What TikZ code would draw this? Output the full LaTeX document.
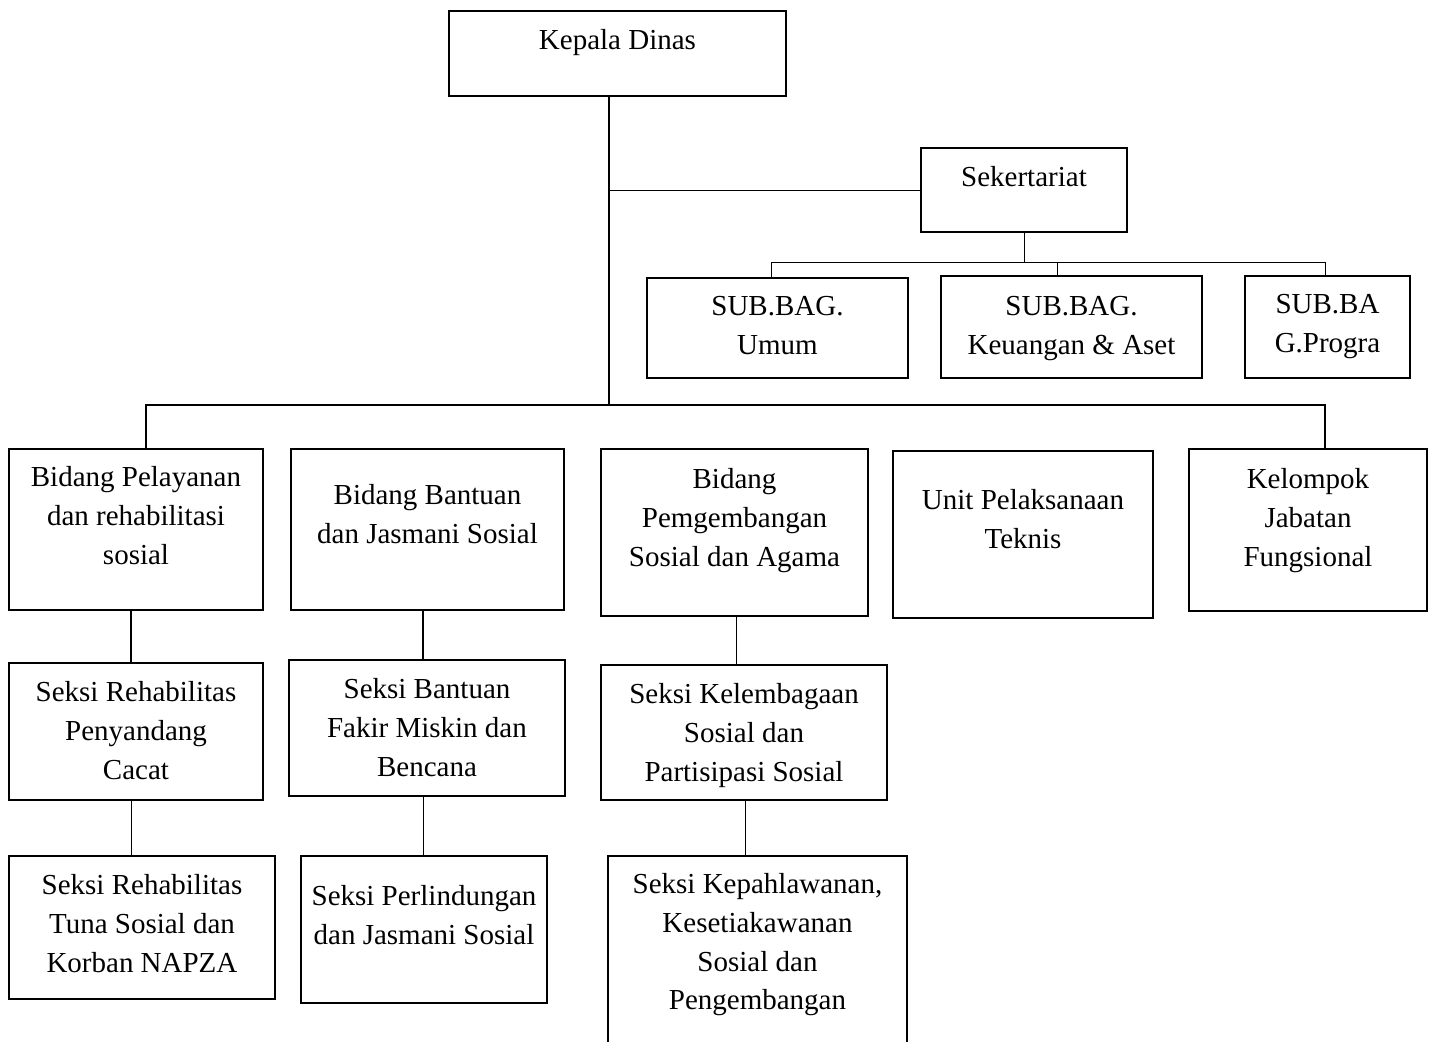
\documentclass[tikz,border=0pt]{standalone}
\usepackage{fontspec}
\setmainfont{Liberation Serif}
\usetikzlibrary{calc}
\tikzset{
  orgbox/.style={draw, line width=1pt, inner sep=0pt, outer sep=0pt, rectangle},
  orgtxt/.style={anchor=north, inner sep=0pt, outer sep=0pt, align=center,
    font=\fontsize{14.5}{19.4}\selectfont},
  thickln/.style={line width=1pt},
  thinln/.style={line width=0.5pt}
}
\newcommand\orgbox[5]{\node[orgbox, minimum width={(#4-#2)*0.5pt}, minimum height={(#5-#3)*0.5pt}] (#1) at ({(#2+#4)/2},{(#3+#5)/2}) {};}
\newcommand\orgtext[3]{\node[orgtxt] (#1-t) at ($(#1.center |- 0,0)+(0,{#2-17.7})$) {\strut #3};}
\begin{document}
\begin{tikzpicture}[x=0.5pt,y=-0.5pt]
\useasboundingbox (0,0) rectangle (1435,1041);
% boxes
\orgbox{kd}{449}{11}{786}{96}
\orgbox{sek}{921}{148}{1127}{232}
\orgbox{umum}{647}{278}{908}{378}
\orgbox{keu}{941}{276}{1202}{378}
\orgbox{prog}{1245}{276}{1410}{378}
\orgbox{bp}{9}{449}{263}{610}
\orgbox{bb}{291}{449}{564}{610}
\orgbox{bg}{601}{449}{868}{616}
\orgbox{up}{893}{451}{1153}{618}
\orgbox{kj}{1189}{449}{1427}{611}
\orgbox{sr1}{9}{663}{263}{800}
\orgbox{sb1}{289}{660}{565}{796}
\orgbox{sk1}{601}{665}{887}{800}
\orgbox{sr2}{9}{856}{275}{999}
\orgbox{sp}{301}{856}{547}{1003}
\orgbox{sk2}{608}{856}{907}{1100}
% texts
\orgtext{kd}{40}{Kepala Dinas}
\orgtext{sek}{177}{Sekertariat}
\orgtext{umum}{306}{SUB.BAG.\\Umum}
\orgtext{keu}{306}{SUB.BAG.\\Keuangan \& Aset}
\orgtext{prog}{304}{SUB.BA\\G.Progra}
\orgtext{bp}{477}{Bidang Pelayanan\\dan rehabilitasi\\sosial}
\orgtext{bb}{495}{Bidang Bantuan\\dan Jasmani Sosial}
\orgtext{bg}{479}{Bidang\\Pemgembangan\\Sosial dan Agama}
\orgtext{up}{500}{Unit Pelaksanaan\\Teknis}
\orgtext{kj}{479}{Kelompok\\Jabatan\\Fungsional}
\orgtext{sr1}{692}{Seksi Rehabilitas\\Penyandang\\Cacat}
\orgtext{sb1}{689}{Seksi Bantuan\\Fakir Miskin dan\\Bencana}
\orgtext{sk1}{694}{Seksi Kelembagaan\\Sosial dan\\Partisipasi Sosial}
\orgtext{sr2}{885}{Seksi Rehabilitas\\Tuna Sosial dan\\Korban NAPZA}
\orgtext{sp}{896}{Seksi Perlindungan\\dan Jasmani Sosial}
\orgtext{sk2}{884}{Seksi Kepahlawanan,\\Kesetiakawanan\\Sosial dan\\Pengembangan}
% junctions
\coordinate (mbar) at (609,405);
\coordinate (sbar) at (1025,262);
% main trunk
\draw[thickln] (kd.south -| mbar) -- (mbar);
\draw[thinln] (sek.west) -- (sek.west -| mbar);
% secretariat branch
\draw[thinln] (sek.south) -- (sek.south |- sbar);
\draw[thinln] ([xshift=-3.25pt]umum.north) |- ([xshift=-1.25pt]prog.north |- sbar) -- ([xshift=-1.25pt]prog.north);
\draw[thinln] ([xshift=-7.25pt]keu.north) -- ([xshift=-7.25pt]keu.north |- sbar);
% main bar
\draw[thickln] ([xshift=5pt]bp.north) |- ([xshift=8.5pt]kj.north |- mbar) -- ([xshift=8.5pt]kj.north);
% columns
\draw[thickln] ([xshift=-2.5pt]bp.south) -- ([xshift=-2.5pt]bp.south |- sr1.north);
\draw[thinln] ([xshift=-2.5pt]sr1.south) -- ([xshift=-2.5pt]sr1.south |- sr2.north);
\draw[thickln] ([xshift=-2.25pt]bb.south) -- ([xshift=-2.25pt]bb.south |- sb1.north);
\draw[thinln] ([xshift=-2pt]sb1.south) -- ([xshift=-2pt]sb1.south |- sp.north);
\draw[thinln] ([xshift=0.75pt]bg.south) -- ([xshift=0.75pt]bg.south |- sk1.north);
\draw[thinln] ([xshift=0.5pt]sk1.south) -- ([xshift=0.5pt]sk1.south |- sk2.north);
\end{tikzpicture}
\end{document}
